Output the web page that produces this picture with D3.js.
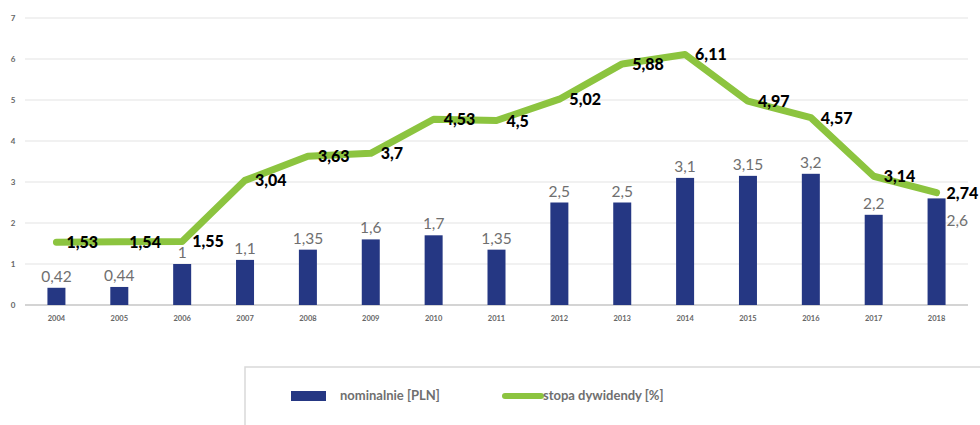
<!DOCTYPE html>
<html>
<head>
<meta charset="utf-8">
<script src="https://cdn.jsdelivr.net/npm/d3@7"></script>
<style>
body { margin: 0; background: #fff; }
text { font-family: Lato, "Open Sans", sans-serif; }
</style>
</head>
<body>
<div id="chart"></div>
<script>
var years = ["2004","2005","2006","2007","2008","2009","2010","2011","2012","2013","2014","2015","2016","2017","2018"];
var nominal = [0.42, 0.44, 1, 1.1, 1.35, 1.6, 1.7, 1.35, 2.5, 2.5, 3.1, 3.15, 3.2, 2.2, 2.6];
var yieldPct = [1.53, 1.54, 1.55, 3.04, 3.63, 3.7, 4.53, 4.5, 5.02, 5.88, 6.11, 4.97, 4.57, 3.14, 2.74];
var yTicks = [0, 1, 2, 3, 4, 5, 6, 7];

function fmt(v) { return String(v).replace(".", ","); }

var svg = d3.select("#chart").append("svg")
	.attr("width", 980)
	.attr("height", 425);

var x = d3.scaleBand().domain(years).range([25, 968]);
var y = d3.scaleLinear().domain([0, 7]).range([305, 18]);

// gridlines
svg.selectAll(".grid").data(yTicks).enter().append("line")
	.attr("x1", 25).attr("x2", 968)
	.attr("y1", function(d){ return y(d); })
	.attr("y2", function(d){ return y(d); })
	.attr("stroke", function(d){ return d == 0 ? "#d4d4d4" : "#e4e4e4"; })
	.attr("stroke-width", function(d){ return d == 0 ? 2 : 1.2; });

// y tick labels
svg.selectAll(".ylab").data(yTicks).enter().append("text")
	.attr("x", 13)
	.attr("y", function(d){ return y(d) + 3; })
	.attr("text-anchor", "middle")
	.attr("font-size", 8)
	.attr("font-weight", "bold")
	.attr("fill", "#666")
	.text(function(d){ return d; });

// x tick labels
svg.selectAll(".xlab").data(years).enter().append("text")
	.attr("x", function(d){ return x(d) + x.bandwidth() / 2; })
	.attr("y", 321)
	.attr("text-anchor", "middle")
	.attr("font-size", 7.5)
	.attr("font-weight", "bold")
	.attr("fill", "#666")
	.text(function(d){ return d; });

// bars
var bw = 18;
svg.selectAll(".bar").data(nominal).enter().append("rect")
	.attr("x", function(d, i){ return x(years[i]) + x.bandwidth() / 2 - bw / 2; })
	.attr("y", function(d){ return y(d); })
	.attr("width", bw)
	.attr("height", function(d){ return y(0) - y(d); })
	.attr("fill", "#253783");

// bar labels
svg.selectAll(".blab").data(nominal).enter().append("text")
	.attr("x", function(d, i){
		var cx = x(years[i]) + x.bandwidth() / 2;
		return i == years.length - 1 ? cx + 10 : cx;
	})
	.attr("y", function(d, i){ return i == years.length - 1 ? y(d) + 28 : y(d) - 6; })
	.attr("text-anchor", function(d, i){ return i == years.length - 1 ? "start" : "middle"; })
	.attr("font-size", 15.5)
	.attr("fill", "#6f6f6f")
	.text(function(d){ return fmt(d); });

// line
var line = d3.line()
	.x(function(d, i){ return x(years[i]) + x.bandwidth() / 2; })
	.y(function(d){ return y(d); });

svg.append("path")
	.datum(yieldPct)
	.attr("d", line)
	.attr("fill", "none")
	.attr("stroke", "#8cc43f")
	.attr("stroke-width", 7)
	.attr("stroke-linejoin", "round")
	.attr("stroke-linecap", "round");

// line labels
svg.selectAll(".llab").data(yieldPct).enter().append("text")
	.attr("x", function(d, i){ return x(years[i]) + x.bandwidth() / 2 + 10; })
	.attr("y", function(d){ return y(d) + 6; })
	.attr("font-size", 16)
	.attr("font-weight", "900")
	.attr("fill", "#000")
	.text(function(d){ return fmt(d); });

// legend
svg.append("rect")
	.attr("x", 245).attr("y", 367)
	.attr("width", 750).attr("height", 80)
	.attr("fill", "none")
	.attr("stroke", "#d9d9d9")
	.attr("stroke-width", 1.5);

svg.append("rect")
	.attr("x", 291).attr("y", 391)
	.attr("width", 35).attr("height", 10)
	.attr("fill", "#253783");
svg.append("text")
	.attr("x", 340).attr("y", 400)
	.attr("font-size", 13)
	.attr("font-weight", "bold")
	.attr("fill", "#6f6f6f")
	.text("nominalnie [PLN]");

svg.append("line")
	.attr("x1", 505).attr("x2", 541)
	.attr("y1", 396).attr("y2", 396)
	.attr("stroke", "#8cc43f")
	.attr("stroke-width", 6)
	.attr("stroke-linecap", "round");
svg.append("text")
	.attr("x", 543).attr("y", 400)
	.attr("font-size", 13)
	.attr("font-weight", "bold")
	.attr("fill", "#6f6f6f")
	.text("stopa dywidendy [%]");
</script>
</body>
</html>
